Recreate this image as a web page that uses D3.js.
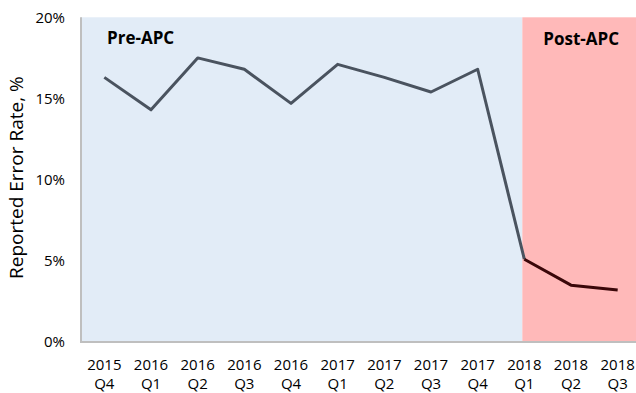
<!DOCTYPE html>
<html>
<head>
<meta charset="utf-8">
<script src="https://cdn.jsdelivr.net/npm/d3@7"></script>
<style>
  html, body { margin: 0; padding: 0; background: #fff; }
  svg { display: block; }
  text { font-family: "Open Sans", "DejaVu Sans", sans-serif; fill: #000; }
</style>
</head>
<body>
<svg id="chart" width="636" height="393"></svg>
<script>
// Quarter labels (year / quarter)
const years    = ["2015","2016","2016","2016","2016","2017","2017","2017","2017","2018","2018","2018"];
const quarters = ["Q4","Q1","Q2","Q3","Q4","Q1","Q2","Q3","Q4","Q1","Q2","Q3"];
const categories = years.map((y, i) => y + " " + quarters[i]);

// Reported error rate, %
const errorRate = [16.3, 14.3, 17.5, 16.8, 14.7, 17.1, 16.3, 15.4, 16.8, 5.1, 3.5, 3.2];

// Period split: index of the first Post-APC quarter
const postStart = 9;
const periods = ["Pre-APC", "Post-APC"];

const yTicks = [0, 5, 10, 15, 20];

const W = 636, H = 393;
const margin = { left: 81, right: 0, top: 17.3, bottom: 51 };
const svg = d3.select("#chart");

const x = d3.scalePoint()
  .domain(categories)
  .range([margin.left, 641])
  .padding(0.5);

const y = d3.scaleLinear()
  .domain([0, 20])
  .range([H - margin.bottom, margin.top]);

const splitX = x(categories[postStart]) - 2;

// Background bands for the two periods
svg.append("rect")
  .attr("x", margin.left).attr("y", y(20))
  .attr("width", splitX - margin.left).attr("height", y(0) - y(20))
  .attr("fill", "#E2ECF7");
svg.append("rect")
  .attr("x", splitX).attr("y", y(20))
  .attr("width", W - splitX).attr("height", y(0) - y(20))
  .attr("fill", "#FFB9B9");

// Axes lines
svg.append("line")
  .attr("x1", margin.left).attr("x2", margin.left)
  .attr("y1", y(20)).attr("y2", y(0))
  .attr("stroke", "#BFBFBF").attr("stroke-width", 2);
svg.append("line")
  .attr("x1", margin.left - 1).attr("x2", W)
  .attr("y1", y(0)).attr("y2", y(0))
  .attr("stroke", "#BFBFBF").attr("stroke-width", 2);

// Y tick labels
svg.append("g").selectAll("text")
  .data(yTicks).join("text")
  .attr("x", 65)
  .attr("y", d => y(d))
  .attr("dy", "0.36em")
  .attr("text-anchor", "end")
  .attr("font-size", 15)
  .text(d => d + "%");

// X tick labels (two lines)
const xl = svg.append("g").selectAll("text")
  .data(categories).join("text")
  .attr("text-anchor", "middle")
  .attr("font-size", 15);
xl.append("tspan")
  .attr("x", d => x(d)).attr("y", 370)
  .text((d, i) => years[i]);
xl.append("tspan")
  .attr("x", d => x(d)).attr("y", 389)
  .text((d, i) => quarters[i]);

// Y axis title
svg.append("text")
  .attr("transform", `translate(23, ${(y(0) + y(20)) / 2 - 2}) rotate(-90)`)
  .attr("text-anchor", "middle")
  .attr("font-size", 19)
  .text("Reported Error Rate, %");

// Period labels
svg.append("text")
  .attr("x", 107).attr("y", 44)
  .attr("font-size", 17).attr("font-weight", "bold")
  .text(periods[0]);
svg.append("text")
  .attr("x", (splitX + W) / 2 + 2).attr("y", 45)
  .attr("text-anchor", "middle")
  .attr("font-size", 17).attr("font-weight", "bold")
  .text(periods[1]);

// Series line
const line = d3.line()
  .x(d => x(d.cat))
  .y(d => y(d.v));
const pts = categories.map((c, i) => ({ cat: c, v: errorRate[i] }));

svg.append("path")
  .datum(pts.slice(0, postStart + 1))
  .attr("d", line)
  .attr("fill", "none")
  .attr("stroke", "#4A535F")
  .attr("stroke-width", 3)
  .attr("stroke-linejoin", "round");
svg.append("path")
  .datum(pts.slice(postStart))
  .attr("d", line)
  .attr("fill", "none")
  .attr("stroke", "#3A0709")
  .attr("stroke-width", 3)
  .attr("stroke-linejoin", "round");
</script>
</body>
</html>
